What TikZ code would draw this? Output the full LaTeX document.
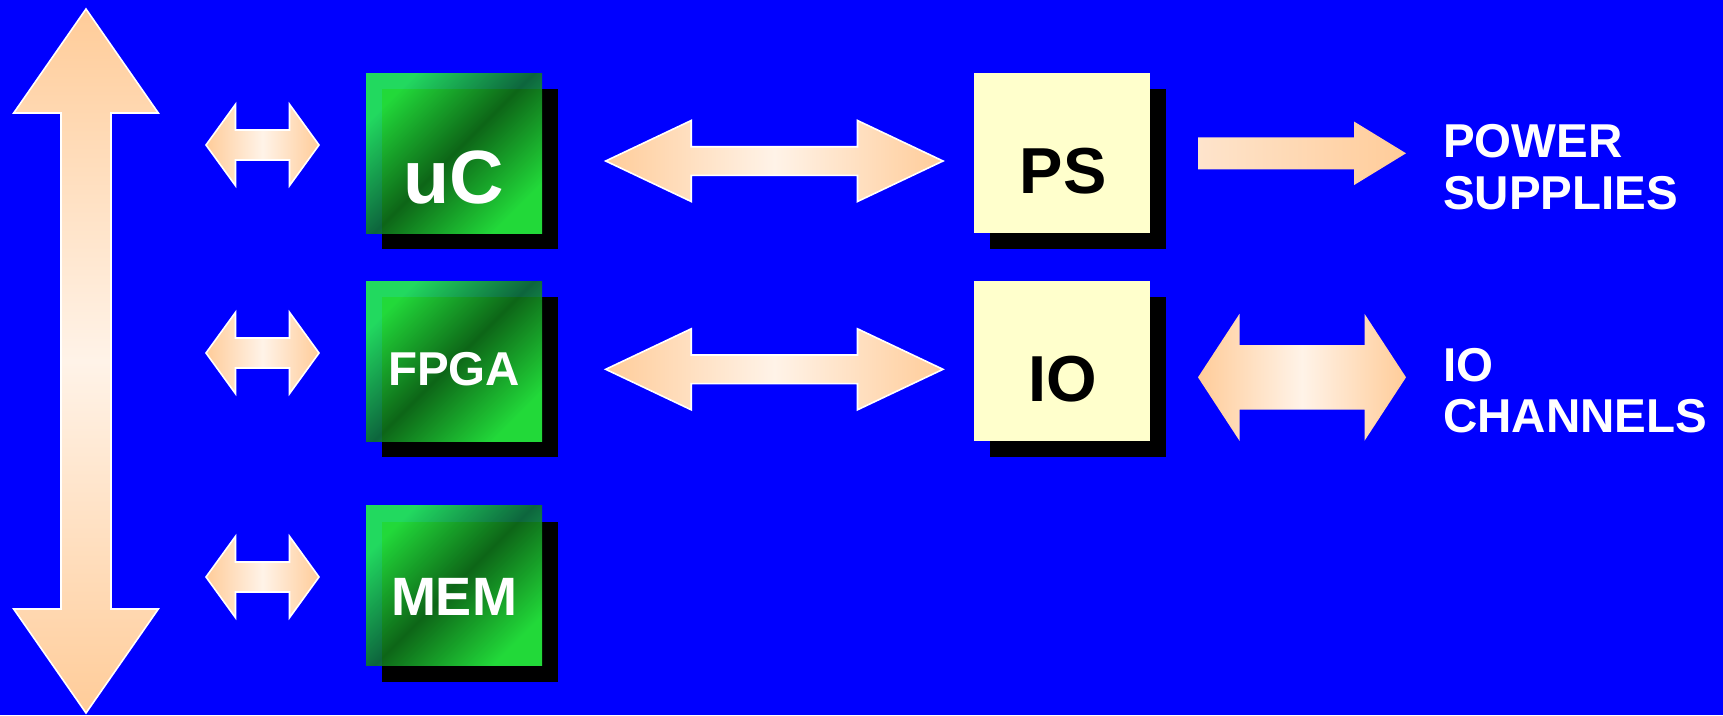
\documentclass[tikz,border=0pt]{standalone}
\usepackage{fontspec}
\setmainfont{Liberation Sans}

\definecolor{bg}{RGB}{0,0,255}
\definecolor{peach}{RGB}{255,204,153}
\definecolor{cream}{RGB}{255,243,232}
\definecolor{peachlight}{RGB}{254,228,204}
\definecolor{paleyellow}{RGB}{255,255,204}
\definecolor{chipbright}{RGB}{40,255,68}
\definecolor{chipdark}{RGB}{16,120,28}

% horizontal double block arrow:
% #1 style, #2 left tip x, #3 right tip x, #4 centre y,
% #5 head length, #6 head half-height, #7 shaft half-height
\newcommand{\hdouble}[7]{%
  \path[#1] (#2,#4) -- ({#2+#5},{#4-#6}) -- ({#2+#5},{#4-#7})
    -- ({#3-#5},{#4-#7}) -- ({#3-#5},{#4-#6}) -- (#3,#4)
    -- ({#3-#5},{#4+#6}) -- ({#3-#5},{#4+#7}) -- ({#2+#5},{#4+#7})
    -- ({#2+#5},{#4+#6}) -- cycle;}

% vertical double block arrow:
% #1 style, #2 centre x, #3 top tip y, #4 bottom tip y,
% #5 head length, #6 head half-width, #7 shaft half-width
\newcommand{\vdouble}[7]{%
  \path[#1] (#2,#3) -- ({#2+#6},{#3+#5}) -- ({#2+#7},{#3+#5})
    -- ({#2+#7},{#4-#5}) -- ({#2+#6},{#4-#5}) -- (#2,#4)
    -- ({#2-#6},{#4-#5}) -- ({#2-#7},{#4-#5}) -- ({#2-#7},{#3+#5})
    -- ({#2-#6},{#3+#5}) -- cycle;}

\begin{document}
\begin{tikzpicture}[x=1pt,y=-1pt,
  outlined/.style={draw=white,line width=1.6pt,line join=miter},
  hgrad/.style={left color=peach,right color=peach,middle color=cream},
  vgrad/.style={top color=peach,bottom color=peach,middle color=cream},
  shadowbox/.style={rectangle,fill=black,minimum width=176pt,minimum height=160pt,inner sep=0pt},
  chip/.style={rectangle,minimum width=176pt,minimum height=160pt,inner sep=0pt,
    top color=chipbright,bottom color=chipbright,middle color=chipdark,
    shading angle=45,fill opacity=0.85},
  unit/.style={rectangle,fill=paleyellow,minimum width=176pt,minimum height=160pt,inner sep=0pt},
  chiplabel/.style={text=white,inner sep=0pt,anchor=base},
  unitlabel/.style={text=black,inner sep=0pt,anchor=base,font=\fontsize{65}{65}\selectfont\bfseries},
  sidelabel/.style={text=white,inner sep=0pt,anchor=base west,font=\fontsize{47.5}{52}\selectfont\bfseries}]

% background
\fill[bg] (0,0) rectangle (1723,715);
\useasboundingbox (0,0) rectangle (1723,715);

% block centres
\coordinate (ucc) at (454,153);
\coordinate (fpgac) at (454,361);
\coordinate (memc) at (454,585.5);
\coordinate (psc) at (1062,153);
\coordinate (ioc) at (1062,361);

% drop shadows
\foreach \c in {ucc,fpgac,memc,psc,ioc}
  \node[shadowbox] (sh-\c) at ([shift={(16,16)}]\c) {};

% processing blocks
\node[chip] (uc) at (ucc) {};
\node[chip] (fpga) at (fpgac) {};
\node[chip] (mem) at (memc) {};
\node[unit] (ps) at (psc) {};
\node[unit] (io) at (ioc) {};

\node[chiplabel,font=\fontsize{75.5}{75.5}\selectfont\bfseries] (uctext) at (454,203.3) {uC};
\node[chiplabel,font=\fontsize{47.5}{47.5}\selectfont\bfseries] (fpgatext) at (454,385.7) {FPGA};
\node[chiplabel,font=\fontsize{54}{54}\selectfont\bfseries] (memtext) at (454,615.7) {MEM};
\node[unitlabel] (pstext) at (1063,193.3) {PS};
\node[unitlabel] (iotext) at (1063,401) {IO};

% system bus
\vdouble{outlined,vgrad}{86}{9}{713}{104}{72.3}{25}

% bus links
\hdouble{outlined,hgrad}{206}{319}{145}{29.5}{40.7}{15}
\hdouble{outlined,hgrad}{206}{319}{353}{29.5}{40.7}{15}
\hdouble{outlined,hgrad}{206}{319}{577}{29.5}{40.7}{15}

% block links
\hdouble{outlined,hgrad}{605.7}{943}{161}{85.5}{40.5}{14.3}
\hdouble{outlined,hgrad}{605.7}{943}{369.3}{85.5}{40.5}{14.3}

% outputs
\path[left color=peachlight,right color=peach]
  (1198,137.3) -- (1354,137.3) -- (1354,121.5) -- (1406,153.3)
  -- (1354,185.1) -- (1354,169.3) -- (1198,169.3) -- cycle;
\hdouble{hgrad}{1198}{1406}{377.3}{41.5}{63.5}{32.2}

\node[sidelabel] (pwr1) at (1443,157.3) {POWER};
\node[sidelabel] (pwr2) at (1443,209) {SUPPLIES};
\node[sidelabel] (ioch1) at (1443,381) {IO};
\node[sidelabel] (ioch2) at (1443,432.7) {CHANNELS};
\end{tikzpicture}
\end{document}
